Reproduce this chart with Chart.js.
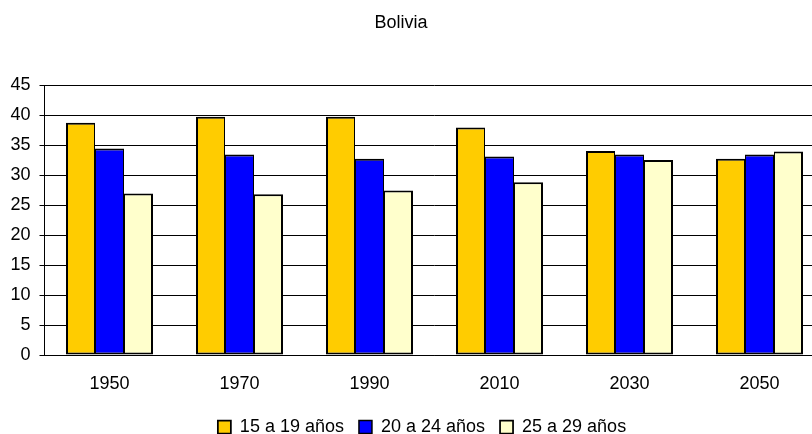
<!DOCTYPE html>
<html>
<head>
<meta charset="utf-8">
<title>Bolivia</title>
<script src="https://cdn.jsdelivr.net/npm/chart.js@4/dist/chart.umd.min.js"></script>
<style>
  body { margin: 0; overflow: hidden; background: #fff; }
  #wrap { position: relative; width: 844px; height: 446px; }
  #title {
    position: absolute; top: 13px; left: 0; width: 802px;
    text-align: center; font: 18px/18px "Liberation Sans", Arial, sans-serif; color: #000;
  }
</style>
</head>
<body>
<div id="wrap">
  <div id="title">Bolivia</div>
  <canvas id="chart" width="844" height="446"></canvas>
</div>
<script>
const years = ["1950", "1970", "1990", "2010", "2030", "2050"];
const seriesNames = ["15 a 19 años", "20 a 24 años", "25 a 29 años"];
const age15to19 = [38.7, 39.7, 39.7, 37.9, 34.0, 32.7];
const age20to24 = [34.4, 33.4, 32.7, 33.1, 33.4, 33.4];
const age25to29 = [26.9, 26.8, 27.4, 28.8, 32.5, 33.9];
const yTicks = [0, 5, 10, 15, 20, 25, 30, 35, 40, 45];

const colors = ["#FFCC00", "#0000FF", "#FFFFCC"];
const values = [age15to19, age20to24, age25to29];
// neighbouring bars share one dark edge, as in the original
const borders = [
  { top: 2, bottom: 2, left: 2, right: 1 },
  { top: 2, bottom: 2, left: 1, right: 1 },
  { top: 2, bottom: 2, left: 1, right: 2 },
];

Chart.defaults.font.family = '"Liberation Sans", Arial, sans-serif';
Chart.defaults.font.size = 18;
Chart.defaults.color = "#000";

const data = {
  labels: years,
  datasets: seriesNames.map((name, i) => ({
    label: name,
    data: values[i],
    backgroundColor: colors[i],
    borderColor: "#000",
    borderWidth: borders[i],
    borderSkipped: false,
    inflateAmount: 0,
    barPercentage: 1.0,
    categoryPercentage: 87 / 130,
  })),
};

new Chart(document.getElementById("chart"), {
  type: "bar",
  data: data,
  options: {
    responsive: false,
    animation: false,
    layout: { padding: { top: 85, right: 0, left: 0, bottom: 0 } },
    plugins: {
      tooltip: { enabled: false },
      title: { display: false },
      legend: {
        position: "bottom",
        labels: { boxWidth: 13, boxHeight: 13, padding: 15 },
      },
    },
    scales: {
      x: {
        grid: { display: false, drawTicks: false },
        border: { display: true, color: "#000", width: 1 },
        ticks: { padding: 18 },
        afterFit: (scale) => { scale.height = 48; },
      },
      y: {
        min: 0,
        max: 45,
        afterBuildTicks: (scale) => { scale.ticks = yTicks.map((v) => ({ value: v })); },
        grid: { color: "#000", lineWidth: 1, tickLength: 5 },
        border: { display: true, color: "#000", width: 1 },
        ticks: { padding: 9 },
        afterFit: (scale) => { scale.width = 44.5; },
      },
      // empty axis on the right: pushes the plot end past the window edge
      yRight: {
        position: "right",
        grid: { display: false, drawTicks: false },
        border: { display: false },
        ticks: { display: false },
        afterFit: (scale) => { scale.width = 19.5; },
      },
    },
  },
});
</script>
</body>
</html>
